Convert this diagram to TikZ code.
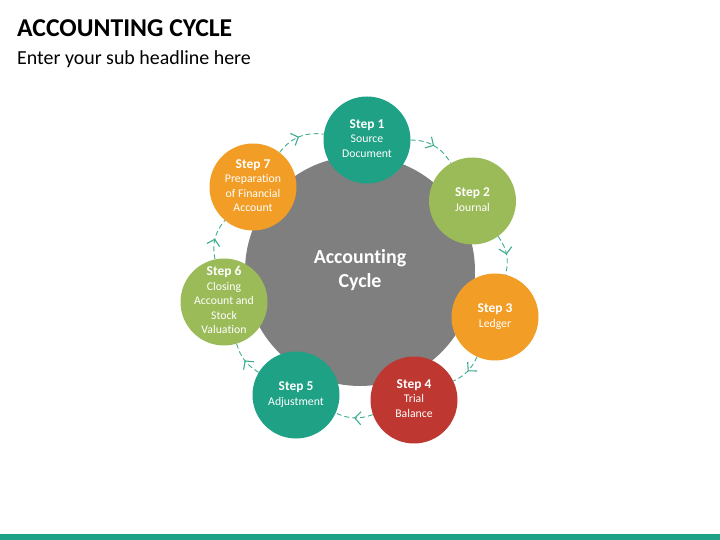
\documentclass[tikz,border=0pt]{standalone}
\usepackage{fontspec}
\setmainfont{Carlito}[Ligatures=NoCommon]
\usetikzlibrary{arrows.meta,decorations.markings}
\definecolor{stepteal}{RGB}{30,161,132}
\definecolor{stepgreen}{RGB}{155,187,89}
\definecolor{steporange}{RGB}{242,157,38}
\definecolor{stepred}{RGB}{190,55,48}
\definecolor{hubgray}{RGB}{127,127,127}
\definecolor{linkteal}{RGB}{60,172,145}

\begin{document}
\begin{tikzpicture}[x=1bp,y=1bp,
  stage/.style={circle,fill=#1,minimum size=87bp,inner sep=-8bp,text=white,font=\fontsize{11.8}{14.5}\selectfont},
  link/.style={draw=linkteal,line width=0.9bp,dash pattern=on 5bp off 3bp,
    postaction={decorate,decoration={markings,mark=at position 0.5 with {\arrow[solid,line width=1.1bp]{Straight Barb[length=6bp,width=13bp]}}}}}]
\useasboundingbox (0,0) rectangle (720,540);
\fill [stepteal] (0,0) rectangle (720,6);
\node [anchor=base west,inner sep=0pt,font=\bfseries\fontsize{25.8}{30}\selectfont] (title) at (17,503) {ACCOUNTING CYCLE};
\node [anchor=base west,inner sep=0pt,font=\fontsize{20}{24}\selectfont] (subtitle) at (17,475) {Enter your sub headline here};

\node [circle,fill=hubgray,minimum size=230bp,text=white,font=\bfseries\fontsize{20}{24}\selectfont] (hub) at (360,269) {\begin{tabular}{c}Accounting \\ Cycle\end{tabular}};

\node [stage=stepteal] (s1) at (367,400) {\begin{tabular}{@{}c@{}}\textbf{\fontsize{13.5}{16}\selectfont Step 1} \\ Source \\ Document\end{tabular}};
\node [stage=stepgreen] (s2) at (472.5,339) {\begin{tabular}{@{}c@{}}\textbf{\fontsize{13.5}{16}\selectfont Step 2} \\ Journal\end{tabular}};
\node [stage=steporange] (s3) at (495,223) {\begin{tabular}{@{}c@{}}\textbf{\fontsize{13.5}{16}\selectfont Step 3} \\ Ledger\end{tabular}};
\node [stage=stepred] (s4) at (414,140) {\begin{tabular}{@{}c@{}}\textbf{\fontsize{13.5}{16}\selectfont Step 4} \\ Trial \\ Balance\end{tabular}};
\node [stage=stepteal] (s5) at (296,145) {\begin{tabular}{@{}c@{}}\textbf{\fontsize{13.5}{16}\selectfont Step 5} \\ Adjustment\end{tabular}};
\node [stage=stepgreen] (s6) at (224,238) {\begin{tabular}{@{}c@{}}\textbf{\fontsize{13.5}{16}\selectfont Step 6} \\ Closing \\ Account and \\ Stock \\ Valuation\end{tabular}};
\node [stage=steporange] (s7) at (253,353) {\begin{tabular}{@{}c@{}}\textbf{\fontsize{13.5}{16}\selectfont Step 7} \\ Preparation \\ of Financial \\ Account\end{tabular}};

\draw [link] (s7) to[bend left=30] (s1);
\draw [link] (s1) to[bend left=30] (s2);
\draw [link] (s2) to[bend left=25] (s3);
\draw [link] (s3) to[bend left=20] (s4);
\draw [link] (s4) to[bend left=22] (s5);
\draw [link] (s5) to[bend left=21] (s6);
\draw [link] (s6) to[bend left=26] (s7);
\end{tikzpicture}
\end{document}
